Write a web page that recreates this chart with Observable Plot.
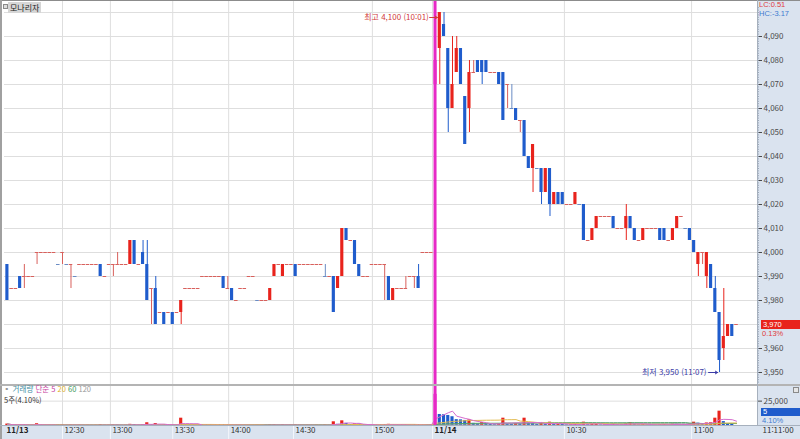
<!DOCTYPE html>
<html lang="ko">
<head>
<meta charset="utf-8">
<script src="https://cdn.jsdelivr.net/npm/d3@7"></script>
<script src="https://cdn.jsdelivr.net/npm/@observablehq/plot@0.6"></script>
<style>
html,body{margin:0;padding:0;background:#fff;}
#chart{position:relative;width:800px;height:439px;overflow:hidden;font-family:"Noto Sans CJK KR","Noto Sans",sans-serif;}
#chart .abs{position:absolute;white-space:nowrap;}
#chart .num{font-family:"Liberation Sans",Arial,sans-serif;}
#chart > svg{position:absolute;left:0;}
</style>
</head>
<body>
<div id="chart"></div>
<script>
// ---- 1-minute candles: 11/13 (101 bars) then 11/14 10:00-11:11 (72 bars) ----
const open = [
3995,3985,3985,3990,3990,3990,3990,4000,4000,4000,
4000,4000,3995,4000,3995,3995,3990,3995,3995,3995,
3995,3995,3995,3990,3995,3995,3995,3995,3995,3995,
4005,3995,4000,3995,3985,3985,3975,3975,3975,3975,
3975,3975,3985,3985,3985,3985,3990,3990,3990,3990,
3990,3990,3985,3985,3980,3985,3985,3990,3990,3980,
3980,3980,3980,3990,3995,3990,3995,3995,3995,3995,
3995,3995,3995,3995,3995,3990,3990,3990,3985,3990,
4010,4005,4005,3995,3990,3990,3995,3995,3995,3995,
3990,3980,3985,3985,3985,3990,3990,3990,4000,4000,4000,
4070,4085,4095,4085,4060,4075,4085,4065,4060,4075,
4080,4080,4080,4075,4075,4075,4075,4070,4060,4060,
4055,4055,4040,4035,4035,4035,4025,4035,4020,4025,
4025,4020,4020,4020,4020,4020,4005,4005,4010,4015,
4015,4015,4015,4010,4010,4010,4015,4010,4005,4005,
4010,4010,4010,4010,4010,4005,4005,4010,4015,4010,
4010,4005,3995,4000,3990,3995,3985,3975,3960,3965,3970,3970];
const high = [
3995,3985,3985,3990,3995,3990,3990,4000,4000,4000,
4000,4000,3995,4000,3995,3995,3990,3995,3995,3995,
3995,3995,3995,3990,3995,3995,4000,3995,3995,4005,
4005,3995,4005,4005,3985,3990,3975,3975,3975,3975,
3975,3980,3985,3985,3985,3985,3990,3990,3990,3990,
3990,3990,3990,3985,3980,3985,3985,3990,3990,3980,
3980,3980,3985,3995,3995,3995,3995,3995,3995,3995,
3995,3995,3995,3995,3995,3995,3990,3990,3990,4010,
4010,4005,4005,3995,3990,3990,3995,3995,3995,3995,
3990,3985,3985,3985,3990,3990,3990,3995,4000,4000,4000,
4080,4100,4100,4085,4090,4090,4085,4065,4080,4080,
4080,4080,4080,4075,4075,4075,4075,4070,4070,4060,
4055,4055,4040,4045,4035,4035,4035,4035,4025,4025,
4025,4020,4020,4025,4020,4020,4005,4010,4015,4015,
4015,4015,4015,4010,4010,4020,4015,4010,4005,4010,
4010,4010,4010,4010,4010,4005,4010,4015,4015,4010,
4010,4005,4000,4000,4000,3995,3990,3975,3985,3970,3970,3970];
const low = [
3980,3985,3985,3985,3985,3990,3990,3995,4000,4000,
4000,4000,3995,3995,3995,3985,3990,3995,3995,3995,
3995,3995,3990,3990,3995,3990,3995,3995,3995,3995,
3995,3995,3995,3980,3970,3970,3975,3970,3975,3970,
3975,3970,3985,3985,3985,3985,3990,3990,3990,3990,
3990,3985,3985,3980,3980,3985,3985,3990,3990,3980,
3980,3980,3980,3990,3995,3990,3995,3995,3990,3995,
3995,3995,3995,3995,3995,3990,3990,3975,3985,3990,
4005,4005,3995,3990,3990,3990,3995,3995,3995,3980,
3980,3980,3985,3985,3985,3990,3985,3985,4000,4000,4000,
4070,4070,4090,4050,4060,4075,4070,4045,4050,4075,
4075,4070,4075,4075,4075,4070,4055,4060,4060,4055,
4050,4040,4035,4025,4035,4020,4025,4015,4020,4020,
4020,4020,4020,4020,4020,4005,4005,4005,4010,4015,
4015,4015,4010,4010,4010,4005,4010,4005,4005,4005,
4010,4010,4010,4005,4005,4005,4005,4010,4015,4010,
4005,4000,3990,3995,3985,3985,3975,3950,3955,3965,3965,3970];
const close = [
3980,3985,3985,3985,3990,3990,3990,4000,4000,4000,
4000,4000,3995,4000,3995,3995,3990,3995,3995,3995,
3995,3995,3990,3990,3995,3995,3995,3995,3995,4005,
3995,3995,3995,3980,3985,3970,3975,3970,3975,3970,
3975,3980,3985,3985,3985,3985,3990,3990,3990,3990,
3990,3985,3985,3980,3980,3985,3985,3990,3990,3980,
3980,3980,3985,3995,3995,3995,3995,3995,3990,3995,
3995,3995,3995,3995,3995,3990,3990,3975,3990,4010,
4005,4005,3995,3990,3990,3990,3995,3995,3995,3995,
3980,3985,3985,3985,3985,3990,3990,3985,4000,4000,4000,
4080,4100,4090,4060,4070,4085,4070,4045,4075,4075,
4075,4075,4075,4075,4075,4070,4055,4070,4060,4055,
4055,4040,4035,4045,4035,4025,4035,4020,4025,4020,
4020,4020,4020,4025,4020,4005,4005,4010,4015,4015,
4015,4015,4010,4010,4010,4015,4010,4005,4005,4010,
4010,4010,4010,4005,4005,4005,4010,4015,4015,4010,
4005,4000,4000,4000,4000,3985,3975,3955,3965,3970,3965,3970];
const volume = [
1500,400,300,800,1000,300,300,1800,300,200,
200,300,400,600,300,500,300,400,200,300,
200,300,800,300,300,500,400,200,300,1200,
1000,300,900,2800,800,2000,500,800,400,700,
400,7500,600,300,200,300,400,200,300,200,
300,500,400,600,300,300,200,300,200,400,
300,200,600,700,300,600,200,300,600,300,
200,300,200,300,200,500,300,3800,1200,4800,
2200,800,1800,1500,600,400,300,500,300,900,
1200,700,300,400,500,300,400,800,300,200,600,
32000,11300,11000,10300,9000,6000,5800,5200,5800,2200,
1600,3000,1800,1200,800,1500,7500,1500,1200,2000,
1600,7500,2500,2000,1000,2600,1500,3400,1200,1600,
1300,600,800,1400,700,3400,800,1600,1800,500,
600,500,1500,700,600,1800,2800,1500,700,1200,
600,500,400,1000,1200,500,1500,1400,600,800,
1500,3400,2400,1000,2600,2800,7500,14700,4000,2000,1500,5];

// time axis labels and the bar index where each one sits
const timeLabels = ["11/13","12:30","13:00","13:30","14:00","14:30","15:00","11/14","10:30","11:00"];
const timeAt     = [-0.68, 13.0, 24.3, 39.0, 52.2, 67.5, 86.1, 100.3, 131.4, 161.4];
const dayBreak = 101;          // first bar of 11/14
const priceTicks = [3950,3960,3970,3980,3990,4000,4010,4020,4030,4040,4050,4060,4070,4080,4090];
const priceGrid  = [3950,3960,3970,3980,3990,4000,4010,4020,4030,4040,4050,4060,4070,4080,4090,4100];
const volTicks = [25000];
const hiNote = {i: 102, p: 4100, label: "최고 4,100 (10:01)"};
const loNote = {i: 168, p: 3950, label: "최저 3,950 (11:07)"};
const lastPrice = 3970, lastPct = "0.13%", lastVol = "5", lastVolPct = "4.10%";

// ---- derived rows ----
const UP = "#e8231c", DN = "#1f5ccc", DUP = "#d8605c", DDN = "#6a8cc4", MAG = "#e62ac6";
const bars = open.map((o, i) => ({i, o, h: high[i], l: low[i], c: close[i], v: volume[i]}));
bars.forEach((d, k) => {
  const prevC = k ? bars[k - 1].c : d.c;
  d.col = d.c > d.o ? UP : d.c < d.o ? DN : (d.c >= prevC ? DUP : DDN);
  d.vcol = (k === 0 || d.v >= bars[k - 1].v) ? UP : DN;
  if (d.i === dayBreak) { d.col = MAG; d.vcol = MAG; }
});
const bodies = bars.filter(d => d.c !== d.o);
const dojis = bars.filter(d => d.c === d.o);
const wicks = bars.filter(d => d.h > d.l);
// the axis label at the last price is hidden under the price badge
const axisTicks = priceTicks.filter(p => p !== lastPrice);

const xDomain = [-0.684, 176.95];
const FONT = '"Noto Sans CJK KR","Noto Sans",sans-serif';
const chart = document.getElementById("chart");
function box(css, text, cls) {
  const el = document.createElement("div");
  el.className = "abs" + (cls ? " " + cls : ""); el.style.cssText = css;
  if (text != null) el.textContent = text;
  chart.appendChild(el); return el;
}

// panel backgrounds
box("left:757px;top:0;width:43px;height:439px;background:#dae3ef;");
box("left:0;top:425px;width:757px;height:14px;background:#dae3ef;");

const pricePlot = Plot.plot({
  width: 800, height: 385,
  marginLeft: 4, marginRight: 43, marginTop: 6, marginBottom: 2,
  style: {background: "transparent", fontFamily: FONT, fontSize: "8px", color: "#4a4a4a", overflow: "visible"},
  x: {type: "linear", domain: xDomain, axis: null},
  y: {domain: [3945.417, 4102.5], axis: "right", ticks: axisTicks, tickFormat: d3.format(","),
      tickSize: 4, tickPadding: 2, label: null},
  marks: [
    Plot.ruleY(priceGrid, {stroke: "#dedede"}),
    Plot.ruleX(timeAt.slice(1), {stroke: "#dedede", insetTop: -6, insetBottom: -2}),
    Plot.ruleY(d3.range(3946, 4103, 1), {x1: xDomain[1], x2: xDomain[1] + 0.42, stroke: "#8a97aa"}),
    Plot.ruleX(wicks, {x: "i", y1: "l", y2: "h", stroke: "col", strokeWidth: 1}),
    Plot.rect(bodies, {x1: d => d.i - 0.37, x2: d => d.i + 0.37, y1: "o", y2: "c", fill: "col"}),
    Plot.ruleY(dojis, {y: "c", x1: d => d.i - 0.42, x2: d => d.i + 0.42, stroke: "col"}),
    Plot.ruleX([dayBreak], {stroke: MAG, strokeWidth: 3, dx: -0.5, insetTop: -5, insetBottom: -2}),
    Plot.text([hiNote], {x: "i", y: "p", text: "label", textAnchor: "end", dx: -11, dy: 5, fill: "#d23a3a", fontSize: 8}),
    Plot.arrow([hiNote], {x1: d => d.i - 2.4, x2: d => d.i - 0.55, y1: "p", y2: "p", dy: 5, stroke: "#d23a3a", strokeWidth: 1, headLength: 4}),
    Plot.text([loNote], {x: "i", y: "p", text: "label", textAnchor: "end", dx: -13, fill: "#3b3ba6", fontSize: 8}),
    Plot.arrow([loNote], {x1: d => d.i - 2.6, x2: d => d.i - 0.45, y1: "p", y2: "p", stroke: "#3b3ba6", strokeWidth: 1, headLength: 4})
  ]
});
pricePlot.style.top = "0px";
chart.appendChild(pricePlot);

const volPlot = Plot.plot({
  width: 800, height: 54,
  marginLeft: 4, marginRight: 43, marginTop: 1, marginBottom: 14,
  style: {background: "transparent", fontFamily: FONT, fontSize: "8px", color: "#4a4a4a", overflow: "visible"},
  x: {type: "linear", domain: xDomain, axis: null},
  y: {domain: [0, 40000], axis: "right", ticks: volTicks, tickFormat: d3.format(","), tickSize: 4, tickPadding: 2, label: null},
  marks: [
    Plot.ruleY(volTicks, {stroke: "#dedede"}),
    Plot.ruleX(timeAt.slice(1), {stroke: "#dedede"}),
    Plot.ruleX(timeAt.slice(1), {stroke: "#f4f7fb", insetTop: 39, insetBottom: -14}),
    Plot.rect(bars, {x1: d => d.i - 0.37, x2: d => d.i + 0.37, y1: 0, y2: "v", fill: "vcol"}),
    Plot.lineY(bars, Plot.windowY({k: 120, anchor: "end"}, {x: "i", y: "v", stroke: "#a3a3a3", strokeWidth: 1})),
    Plot.lineY(bars, Plot.windowY({k: 60, anchor: "end"}, {x: "i", y: "v", stroke: "#4fa36a", strokeWidth: 1})),
    Plot.lineY(bars, Plot.windowY({k: 20, anchor: "end"}, {x: "i", y: "v", stroke: "#e2bb4f", strokeWidth: 1})),
    Plot.lineY(bars, Plot.windowY({k: 5, anchor: "end"}, {x: "i", y: "v", stroke: "#d56ccd", strokeWidth: 1})),
    Plot.ruleX([dayBreak], {stroke: MAG, strokeWidth: 3, dx: -0.5, insetTop: -1}),
    Plot.text(timeLabels.map((t, k) => ({t, x: timeAt[k]})).filter(d => !d.t.includes("/")),
      {x: "x", text: "t", frameAnchor: "bottom", dy: 7.5, dx: 2, textAnchor: "start", fill: "#333"}),
    Plot.text(timeLabels.map((t, k) => ({t, x: timeAt[k]})).filter(d => d.t.includes("/")),
      {x: "x", text: "t", frameAnchor: "bottom", dy: 7.5, dx: 2, textAnchor: "start", fill: "#222", fontWeight: "bold"}),
    Plot.text(["11:11:00"], {frameAnchor: "bottom-right", text: d => d, dy: 7.5, dx: 5, textAnchor: "start", fill: "#333"})
  ]
});
volPlot.style.top = "385px";
chart.appendChild(volPlot);

// frame lines
box("left:0;top:0;width:800px;height:1px;background:#8c8c8c;");
box("left:0;top:0;width:2px;height:439px;background:#a0a0a0;");
box("left:0;top:384px;width:800px;height:2px;background:#b4b4b4;");
box("left:0;top:425px;width:800px;height:1px;background:#a6b0bd;");
box("left:757px;top:0;width:1px;height:425px;background:#a6b0bd;");

// top-left name tag
box("left:3px;top:4px;width:3px;height:3px;border:1px solid #8a8a8a;background:#ddd;");
box("left:8px;top:2px;height:11px;padding:0 2px;background:#d6d6d6;color:#222;font-size:8px;line-height:11px;", "모나리자");
// top-right indicators
box("left:759px;top:1px;color:#e03b3b;font-size:7.5px;line-height:8px;", "LC:0.51", "num");
box("left:759px;top:10px;color:#3f7ccf;font-size:7.5px;line-height:8px;", "HC:-3.17", "num");

// last-price badge on the price axis
const yP = pricePlot.scale("y").apply(lastPrice);
box(`left:761px;top:${yP - 4.5}px;width:39px;height:9px;background:#e8231c;color:#fff;font-size:7.5px;line-height:9px;padding-left:2px;box-sizing:border-box;`, d3.format(",")(lastPrice), "num");
box(`left:762px;top:${yP + 5.5}px;color:#e03b3b;font-size:7.5px;line-height:8px;`, lastPct, "num");

// volume legend
const leg = box("left:3px;top:385px;font-size:7.5px;line-height:8px;color:#555;");
leg.innerHTML = '<span style="color:#999">▪</span> <span style="color:#3e8ea2">거래량</span> <span style="color:#c6409f">단순 5</span> <span style="color:#e0b02c">20</span> <span style="color:#3f9a5a">60</span> <span style="color:#999">120</span>';
box("left:4px;top:396px;font-size:7.5px;line-height:8px;color:#333;", "5주(" + lastVolPct + ")");
box("left:793px;top:387px;width:4px;height:4px;border:1px solid #8a8a8a;background:#e6e6e6;");
// last-volume badge
box("left:761px;top:408px;width:39px;height:8px;background:#1f5ccc;color:#fff;font-size:7.5px;line-height:8px;padding-left:2px;box-sizing:border-box;", lastVol, "num");
box("left:762px;top:416.5px;color:#3f7ccf;font-size:7.5px;line-height:8px;", lastVolPct, "num");
</script>
</body>
</html>
